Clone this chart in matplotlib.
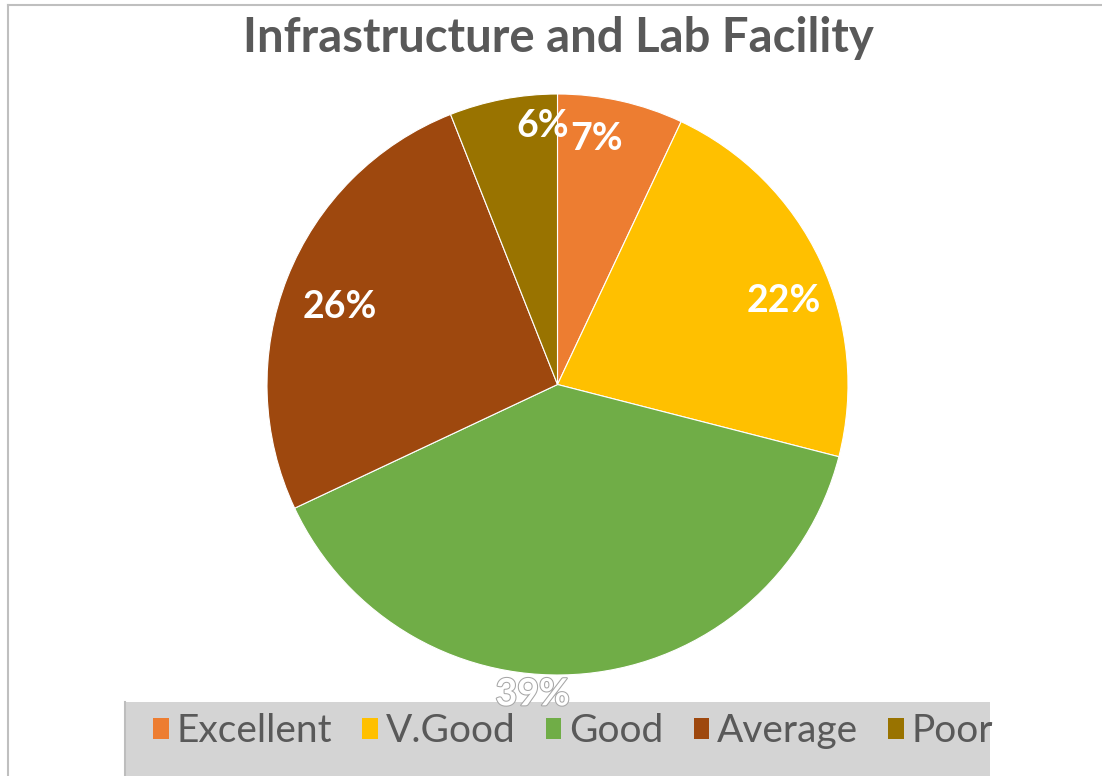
import numpy as np
import matplotlib.pyplot as plt
from matplotlib.patches import Patch, Rectangle
import matplotlib.patheffects as pe

# Data
categories = ['Excellent', 'V.Good', 'Good', 'Average', 'Poor']
shares = [7, 22, 39, 26, 6]
colors = ['#ED7D31', '#FFC000', '#70AD47', '#9E480E', '#997300']

# label placement tweaks (radius factor, angle shift in degrees)
label_r = [0.855, 0.83, 1.07, 0.795, 0.89]
label_shift = [3.5, -5, -10, 2, -7.5]

fig = plt.figure(figsize=(11.02, 7.76), dpi=100)
W, H = 1102, 776

# outer chart border (top and left visible)
fig.add_artist(plt.Line2D([8 / W, 1], [1 - 5 / H, 1 - 5 / H], color='#BFBFBF', lw=1.5))
fig.add_artist(plt.Line2D([8 / W, 8 / W], [0, 1 - 5 / H], color='#BFBFBF', lw=1.5))

# Pie
cx, cy, r = 557.5, 384.5, 290.5
ax = fig.add_axes([(cx - r) / W, 1 - (cy + r) / H, 2 * r / W, 2 * r / H])
ax.set_zorder(2)
wedges, _ = ax.pie(shares, colors=colors, startangle=90, counterclock=False,
                   wedgeprops=dict(edgecolor='white', linewidth=0.8))
ax.set_xlim(-1, 1)
ax.set_ylim(-1, 1)
ax.set_aspect('equal')

for w, val, rf, sh in zip(wedges, shares, label_r, label_shift):
    mid = np.deg2rad((w.theta1 + w.theta2) / 2 + sh)
    t = ax.text(rf * np.cos(mid), rf * np.sin(mid), f'{val}%', ha='center', va='center',
                color='white', fontsize=27, fontweight='bold', family='Lato',
                clip_on=False, zorder=5)
    if rf > 1:
        t.set_path_effects([pe.withStroke(linewidth=1.5, foreground='#A6A6A6')])

fig.suptitle('Infrastructure and Lab Facility', x=558 / W, y=1 - 16 / H, va='top',
             fontsize=34, fontweight='bold', color='#595959', family='Lato')

# Legend background
fig.add_artist(Rectangle((125 / W, 0), (990 - 125) / W, 1 - 702 / H, transform=fig.transFigure,
                         facecolor='#D4D4D4', edgecolor='none', zorder=1))
fig.add_artist(plt.Line2D([125 / W, 125 / W], [0, 1 - 702 / H], color='#BDBDBD', lw=1.5, zorder=1))

handles = [Patch(facecolor=c, edgecolor='none') for c in colors]
leg = fig.legend(handles, categories, loc='center left', bbox_to_anchor=(153 / W, 1 - 731 / H),
                 ncol=5, frameon=False, handlelength=0.4, handleheight=0.45,
                 handletextpad=0.2, columnspacing=0.78, borderpad=0, borderaxespad=0,
                 prop={'family': 'Lato', 'size': 28})
for txt in leg.get_texts():
    txt.set_color('#595959')
leg.set_zorder(1.5)

fig.savefig('out.png', dpi=100)
